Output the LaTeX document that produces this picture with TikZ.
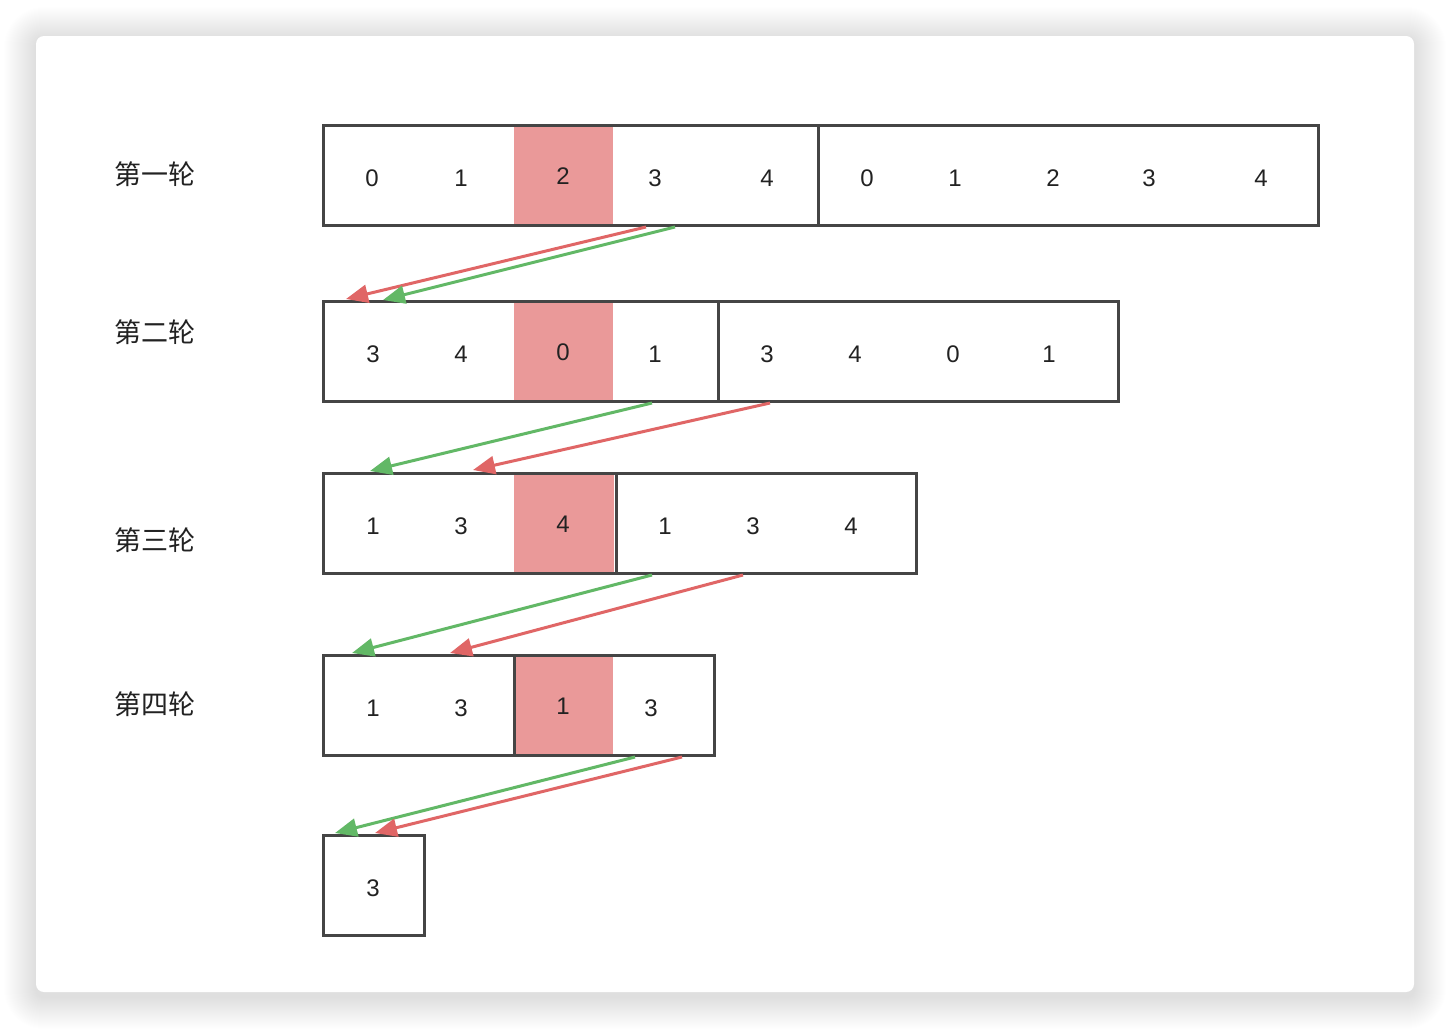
\documentclass[tikz,border=0pt]{standalone}
\usepackage{fontspec}
\setmainfont{Liberation Sans}
\newfontfamily\cjk{Noto Sans CJK SC}
\usetikzlibrary{arrows.meta}
\definecolor{boxgray}{HTML}{454545}
\definecolor{hlfill}{HTML}{EA9999}
\definecolor{redarr}{HTML}{E06666}
\definecolor{greenarr}{HTML}{62B866}
\definecolor{txt}{HTML}{222222}
\begin{document}
\begin{tikzpicture}[x=1pt,y=-1pt,
  box/.style={draw=boxgray, line width=3pt, minimum height=100pt, inner sep=0pt, outer sep=0pt, anchor=north west},
  hl/.style={fill=hlfill, minimum height=100pt, inner sep=0pt, outer sep=0pt, anchor=north west},
  num/.style={font=\fontsize{24}{28}\selectfont, text=txt, inner sep=0pt},
  lab/.style={font=\cjk\fontsize{27}{31}\selectfont, text=txt, inner sep=0pt},
  redline/.style={draw=redarr, line width=3pt, -{Triangle[length=22pt,width=18pt]}},
  greenline/.style={draw=greenarr, line width=3pt, -{Triangle[length=22pt,width=18pt]}}
]
\useasboundingbox (0,0) rectangle (1450,1028);
% shadow
\foreach \i in {1,...,32}{
  \fill[black, opacity=0.0055, rounded corners=8pt+\i pt] (36-\i,39-\i) rectangle (1414+\i,997+\i);
}
\fill[white, rounded corners=8pt] (36,36) rectangle (1414,992);

% labels
\node[lab] (l1) at (155,174) {第一轮};
\node[lab] (l2) at (155,332) {第二轮};
\node[lab] (l3) at (155,540) {第三轮};
\node[lab] (l4) at (155,704) {第四轮};

% row 1
\node[hl, minimum width=99pt] (h1) at (514,125) {};
\node[box, minimum width=495pt] (r1a) at (323,125) {};
\node[box, minimum width=500pt] (r1b) at (818,125) {};
\node[num] (n11) at (372,178) {0};
\node[num] (n12) at (461,178) {1};
\node[num] (n13) at (563,176) {2};
\node[num] (n14) at (655,178) {3};
\node[num] (n15) at (767,178) {4};
\node[num] (n16) at (867,178) {0};
\node[num] (n17) at (955,178) {1};
\node[num] (n18) at (1053,178) {2};
\node[num] (n19) at (1149,178) {3};
\node[num] (n110) at (1261,178) {4};

% row 2
\node[hl, minimum width=99pt] (h2) at (514,301) {};
\node[box, minimum width=395pt] (r2a) at (323,301) {};
\node[box, minimum width=400pt] (r2b) at (718,301) {};
\node[num] (n21) at (373,354) {3};
\node[num] (n22) at (461,354) {4};
\node[num] (n23) at (563,352) {0};
\node[num] (n24) at (655,354) {1};
\node[num] (n25) at (767,354) {3};
\node[num] (n26) at (855,354) {4};
\node[num] (n27) at (953,354) {0};
\node[num] (n28) at (1049,354) {1};

% row 3
\node[hl, minimum width=100pt] (h3) at (514,473) {};
\node[box, minimum width=293pt] (r3a) at (323,473) {};
\node[box, minimum width=300pt] (r3b) at (616,473) {};
\node[num] (n31) at (373,526) {1};
\node[num] (n32) at (461,526) {3};
\node[num] (n33) at (563,524) {4};
\node[num] (n34) at (665,526) {1};
\node[num] (n35) at (753,526) {3};
\node[num] (n36) at (851,526) {4};

% row 4
\node[hl, minimum width=99pt] (h4) at (514,655) {};
\node[box, minimum width=191pt] (r4a) at (323,655) {};
\node[box, minimum width=200pt] (r4b) at (514,655) {};
\node[num] (n41) at (373,708) {1};
\node[num] (n42) at (461,708) {3};
\node[num] (n43) at (563,706) {1};
\node[num] (n44) at (651,708) {3};

% row 5
\node[box, minimum width=101pt] (r5) at (323,835) {};
\node[num] (n51) at (373,888) {3};

% arrow endpoints
\coordinate (a1rs) at (646,227); \coordinate (a1re) at (346,299);
\coordinate (a1gs) at (675,227); \coordinate (a1ge) at (383,300);
\coordinate (a2gs) at (652,403); \coordinate (a2ge) at (370,471);
\coordinate (a2rs) at (770,403); \coordinate (a2re) at (473,470);
\coordinate (a3gs) at (652,575); \coordinate (a3ge) at (352,653);
\coordinate (a3rs) at (743,575); \coordinate (a3re) at (450,653);
\coordinate (a4gs) at (635,757); \coordinate (a4ge) at (335,833);
\coordinate (a4rs) at (682,757); \coordinate (a4re) at (375,833);

\draw[redline] (a1rs) -- (a1re);
\draw[greenline] (a1gs) -- (a1ge);
\draw[greenline] (a2gs) -- (a2ge);
\draw[redline] (a2rs) -- (a2re);
\draw[greenline] (a3gs) -- (a3ge);
\draw[redline] (a3rs) -- (a3re);
\draw[greenline] (a4gs) -- (a4ge);
\draw[redline] (a4rs) -- (a4re);
\end{tikzpicture}
\end{document}
